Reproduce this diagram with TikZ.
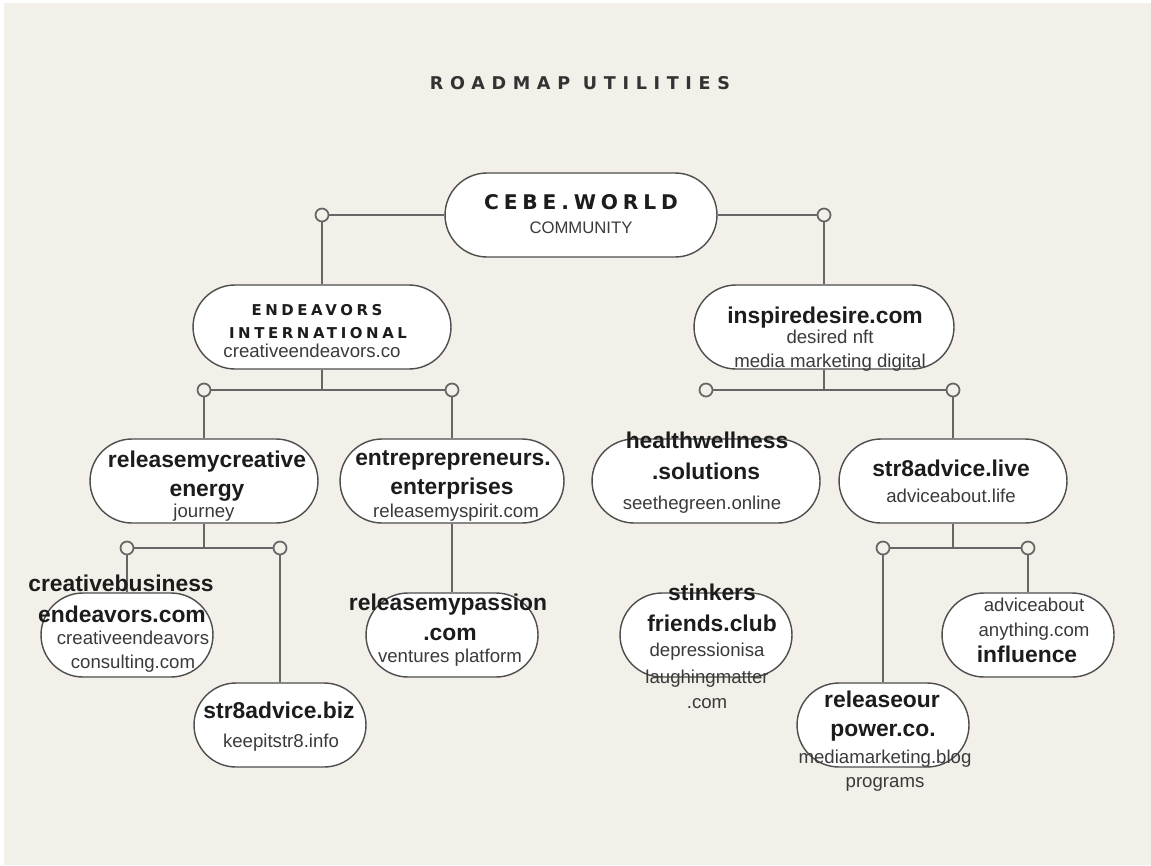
\documentclass[tikz,border=0pt]{standalone}
\usepackage{fontspec}
\setmainfont{Liberation Sans}
\newfontfamily\widecaps[LetterSpace=24]{DejaVu Sans}
\newfontfamily\titlefont[LetterSpace=38]{DejaVu Sans}
\definecolor{beige}{HTML}{F3EFE9}
\definecolor{boxline}{HTML}{4E4E4E}
\definecolor{wire}{HTML}{666666}
\definecolor{ink}{HTML}{1C1C1C}
\definecolor{subink}{HTML}{3A3A3A}
\tikzset{
  stadium/.style={draw=boxline, fill=white, line width=0.8pt, rounded corners=0.84cm,
    minimum height=1.68cm, inner sep=0pt},
  bigbox/.style={stadium, minimum width=4.56cm},
  smallbox/.style={stadium, minimum width=3.44cm},
  dot/.style={circle, draw=wire, fill=beige, line width=1pt, minimum size=0.26cm, inner sep=0pt},
  link/.style={draw=wire, line width=1.1pt},
  head/.style={inner sep=0pt, text=ink, text height=0.7em, text depth=0.05em,
    font=\fontsize{13}{15}\selectfont\bfseries},
  sub/.style={inner sep=0pt, text=subink, text height=0.7em, text depth=0.05em,
    font=\fontsize{10.6}{12}\selectfont},
  heavy/.style={inner sep=0pt, text=ink, text height=0.7em, text depth=0pt}
}
\begin{document}
\begin{tikzpicture}[x=0.02cm, y=-0.02cm]
    \useasboundingbox (0, 0) rectangle (1151, 865);
    \fill[white] (0, 0) rectangle (1151, 865);
    \fill[beige] (4, 3) rectangle (1151, 865);

    \node[heavy, text=ink!90, font=\titlefont\bfseries\fontsize{10}{12}\selectfont] (title) at (580, 83) {ROADMAP UTILITIES};

    % boxes
    \node[stadium, minimum width=5.44cm] (root) at (581, 215) {};
    \node[stadium, minimum width=5.16cm] (endv) at (322, 327) {};
    \node[stadium, minimum width=5.2cm] (insp) at (824, 327) {};
    \node[bigbox] (relc) at (204, 481) {};
    \node[bigbox, minimum width=4.48cm] (entr) at (452, 481) {};
    \node[bigbox] (heal) at (706, 481) {};
    \node[bigbox] (live) at (953, 481) {};
    \node[smallbox] (crea) at (127, 635) {};
    \node[smallbox] (strb) at (280, 725) {};
    \node[smallbox] (pass) at (452, 635) {};
    \node[smallbox] (stink) at (706, 635) {};
    \node[smallbox] (relo) at (883, 725) {};
    \node[smallbox] (advi) at (1028, 635) {};

    % junctions
    \node[dot] (cA) at (322, 215) {};
    \node[dot] (cB) at (824, 215) {};
    \node[dot] (cC) at (204, 390) {};
    \node[dot] (cD) at (452, 390) {};
    \node[dot] (cE) at (706, 390) {};
    \node[dot] (cF) at (953, 390) {};
    \node[dot] (cG) at (127, 548) {};
    \node[dot] (cH) at (280, 548) {};
    \node[dot] (cI) at (883, 548) {};
    \node[dot] (cJ) at (1028, 548) {};
    \coordinate (jL) at (322, 390);
    \coordinate (jR) at (824, 390);
    \coordinate (jLL) at (204, 548);
    \coordinate (jRR) at (953, 548);

    %%%%%%%%%%%%%%%%%%%%%%%%%%%%%%%%%%%%%%%%

    \draw[link] (root) -- (cA);
    \draw[link] (root) -- (cB);
    \draw[link] (cA) -- (endv);
    \draw[link] (cB) -- (insp);
    \draw[link] (endv) -- (jL);
    \draw[link] (cC) -- (cD);
    \draw[link] (cC) -- (relc);
    \draw[link] (cD) -- (entr);
    \draw[link] (insp) -- (jR);
    \draw[link] (cE) -- (cF);
    \draw[link] (cF) -- (live);
    \draw[link] (relc) -- (jLL);
    \draw[link] (cG) -- (cH);
    \draw[link] (cG) -- (crea);
    \draw[link] (cH) -- (strb);
    \draw[link] (entr) -- (pass);
    \draw[link] (live) -- (jRR);
    \draw[link] (cI) -- (cJ);
    \draw[link] (cI) -- (relo);
    \draw[link] (cJ) -- (advi);

    %%%%%%%%%%%%%%%%%%%%%%%%%%%%%%%%%%%%%%%%

    \node[heavy, font=\widecaps\bfseries\fontsize{11.5}{13}\selectfont] (cebe) at (581, 203) {CEBE.WORLD};
    \node[sub, font=\fontsize{9.5}{11}\selectfont] (community) at (581, 228) {COMMUNITY};

    \node[heavy, font=\widecaps\bfseries\fontsize{8.5}{10}\selectfont] (endvA) at (317, 309) {ENDEAVORS};
    \node[heavy, font=\widecaps\bfseries\fontsize{8.5}{10}\selectfont] (endvB) at (318, 332) {INTERNATIONAL};
    \node[sub] (endvC) at (312, 352) {creativeendeavors.co};

    \node[head] (inspA) at (825, 318) {inspiredesire.com};
    \node[sub] (inspB) at (830, 338) {desired nft};
    \node[sub] (inspC) at (830, 362) {media marketing digital};

    \node[head] (relcA) at (207, 462) {releasemycreative};
    \node[head] (relcB) at (207, 491) {energy};
    \node[sub] (relcC) at (204, 512) {journey};

    \node[head] (entrA) at (453, 460) {entreprepreneurs.};
    \node[head] (entrB) at (452, 489) {enterprises};
    \node[sub] (entrC) at (456, 512) {releasemyspirit.com};

    \node[head] (healA) at (707, 443) {healthwellness};
    \node[head] (healB) at (706, 474) {.solutions};
    \node[sub] (healC) at (702, 504) {seethegreen.online};

    \node[head] (liveA) at (951, 471) {str8advice.live};
    \node[sub] (liveB) at (951, 497) {adviceabout.life};

    \node[head] (creaA) at (121, 586) {creativebusiness};
    \node[head] (creaB) at (122, 617) {endeavors.com};
    \node[sub] (creaC) at (133, 639) {creativeendeavors};
    \node[sub] (creaD) at (133, 663) {consulting.com};

    \node[head] (strbA) at (279, 713) {str8advice.biz};
    \node[sub] (strbB) at (281, 742) {keepitstr8.info};

    \node[head] (passA) at (448, 605) {releasemypassion};
    \node[head] (passB) at (450, 635) {.com};
    \node[sub] (passC) at (450, 657) {ventures platform};

    \node[head] (stinkA) at (712, 595) {stinkers};
    \node[head] (stinkB) at (712, 626) {friends.club};
    \node[sub] (stinkC) at (707, 651) {depressionisa};
    \node[sub] (stinkD) at (707, 678) {laughingmatter};
    \node[sub] (stinkE) at (707, 703) {.com};

    \node[sub] (adviA) at (1034, 606) {adviceabout};
    \node[sub] (adviB) at (1034, 631) {anything.com};
    \node[head] (adviC) at (1027, 657) {influence};

    \node[head] (reloA) at (882, 702) {releaseour};
    \node[head] (reloB) at (883, 731) {power.co.};
    \node[sub] (reloC) at (885, 758) {mediamarketing.blog};
    \node[sub] (reloD) at (885, 782) {programs};

\end{tikzpicture}
\end{document}
